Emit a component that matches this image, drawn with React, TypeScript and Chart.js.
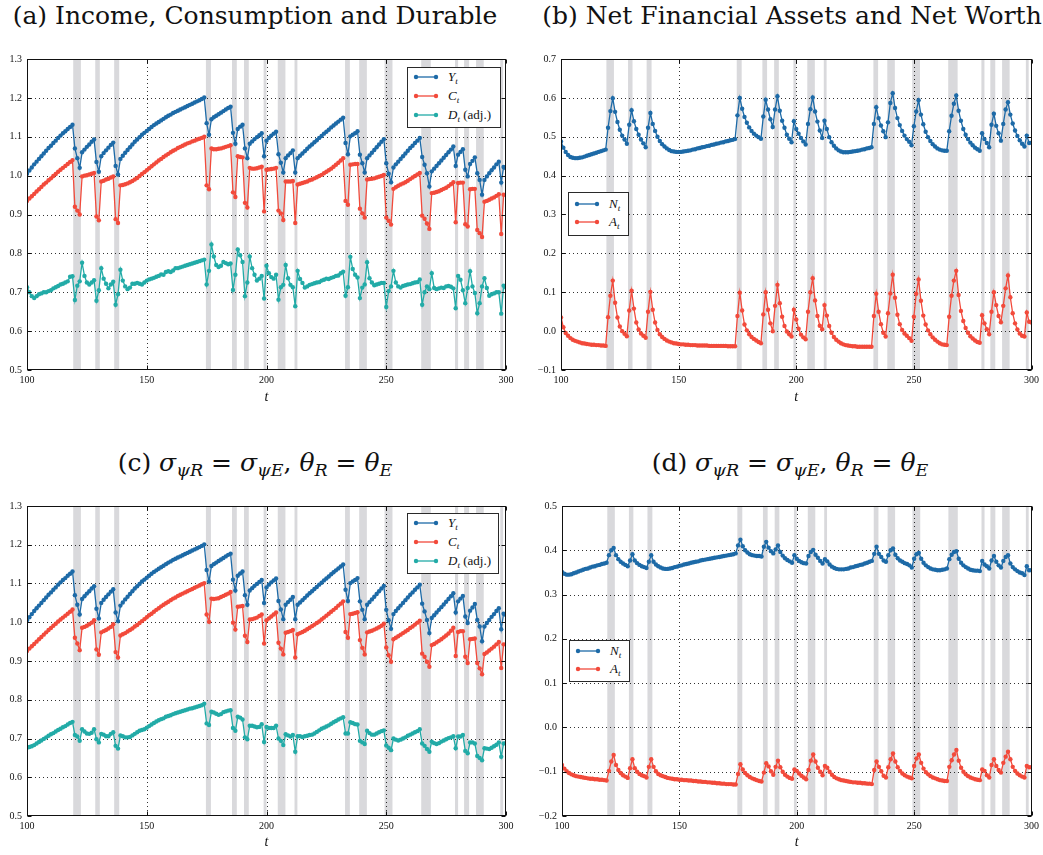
import React, { useEffect, useRef } from 'react';
import { Chart, registerables } from 'chart.js';
Chart.register(...registerables);

const T_START = 100;
const xTicks = [100, 150, 200, 250, 300];
const yTicksAC = [0.5, 0.6, 0.7, 0.8, 0.9, 1.0, 1.1, 1.2, 1.3];
const yTicksB = [-0.1, 0.0, 0.1, 0.2, 0.3, 0.4, 0.5, 0.6, 0.7];
const yTicksD = [-0.2, -0.1, 0.0, 0.1, 0.2, 0.3, 0.4, 0.5];

// recession shading (t from / to)
const bandStart = [119.3, 128.5, 136.4, 174.7, 185.6, 190.6, 198.8, 204.7, 211.7, 232.8, 238.7, 249.3, 264.6, 278.7, 282.5, 287.5, 297.6];
const bandEnd = [122.5, 130.4, 138.5, 176.8, 187.6, 192.6, 200.0, 207.9, 212.9, 234.8, 241.9, 252.6, 268.6, 280.0, 284.6, 290.7, 298.8];

// income Y_t (panels a and c), t = 100..300
const incomeY = [
  1.005,1.013,1.021,1.029,1.036,1.043,1.050,1.057,1.064,1.071,1.077,1.084,1.090,1.097,1.103,1.109,1.114,1.120,1.125,1.131,
  1.070,1.045,1.020,
  1.060,1.067,1.074,1.080,1.087,1.093,
  1.035,1.010,
  1.050,1.058,1.065,1.072,1.079,1.085,
  1.025,1.003,
  1.043,1.051,1.059,1.066,1.073,1.080,1.087,1.093,1.099,1.105,1.110,1.115,1.120,1.125,1.130,1.134,1.138,1.142,1.146,1.150,1.154,1.157,1.161,1.164,1.167,1.170,1.173,1.176,1.179,1.182,1.185,1.188,1.191,1.194,1.197,1.201,
  1.135,1.105,
  1.145,1.150,1.154,1.158,1.162,1.166,1.170,1.174,1.177,
  1.110,1.082,
  1.120,1.126,1.131,
  1.070,1.045,
  1.082,1.088,1.094,1.099,1.104,1.109,
  1.050,
  1.090,1.097,1.103,1.108,1.113,
  1.055,1.033,1.008,
  1.045,1.052,1.058,1.065,
  1.008,
  1.045,1.051,1.057,1.063,1.069,1.075,1.080,1.086,1.091,1.097,1.102,1.108,1.113,1.118,1.124,1.129,1.134,1.139,1.144,1.149,
  1.084,1.055,
  1.101,1.105,1.109,1.114,
  1.054,1.032,1.008,
  1.045,1.052,1.059,1.066,1.073,1.080,1.087,1.094,
  1.032,1.005,0.983,
  1.021,1.029,1.036,1.043,1.050,1.057,1.064,1.071,1.077,1.084,1.090,1.097,
  1.048,1.028,1.006,0.972,
  1.011,1.018,1.025,1.032,1.039,1.046,1.053,1.060,1.067,1.075,
  1.025,
  1.054,1.061,1.068,
  1.015,0.998,
  1.030,1.038,1.047,
  1.006,0.989,0.951,
  0.989,0.998,1.006,1.014,1.021,1.029,1.036,
  0.982,
  1.022,1.019,
];

// consumption C_t, panel a
const consA = [
  0.935,0.941,0.947,0.953,0.959,0.965,0.971,0.977,0.982,0.988,0.993,0.999,1.004,1.010,1.015,1.020,1.025,1.030,1.035,1.040,
  0.920,0.910,0.900,
  0.998,1.000,1.001,1.003,1.005,1.007,
  0.895,0.885,
  0.985,0.987,0.990,0.992,0.995,0.998,
  0.888,0.878,
  0.975,0.976,0.978,0.980,0.983,0.986,0.990,0.994,0.999,1.004,1.009,1.014,1.019,1.024,1.029,1.034,1.039,1.043,1.048,1.052,1.056,1.060,1.064,1.067,1.071,1.074,1.077,1.080,1.083,1.085,1.088,1.090,1.093,1.095,1.097,1.100,
  0.975,0.965,
  1.070,1.068,1.068,1.069,1.070,1.072,1.074,1.076,1.078,
  0.957,0.945,
  1.050,1.048,1.047,
  0.930,0.918,
  1.020,1.018,1.018,1.019,1.021,1.023,
  0.908,
  1.015,1.016,1.017,1.018,1.020,
  0.910,0.903,0.886,
  0.985,0.985,0.985,0.986,
  0.878,
  0.977,0.979,0.981,0.983,0.985,0.988,0.990,0.993,0.996,0.999,1.002,1.006,1.010,1.014,1.018,1.023,1.028,1.033,1.039,1.045,
  0.935,0.925,
  1.028,1.029,1.030,1.030,
  0.915,0.903,0.892,
  0.990,0.991,0.992,0.993,0.995,0.997,0.999,1.002,
  0.892,0.884,0.874,
  0.966,0.970,0.974,0.977,0.980,0.983,0.987,0.991,0.995,0.999,1.003,1.007,
  0.897,0.889,0.877,0.863,
  0.955,0.956,0.958,0.960,0.963,0.966,0.969,0.973,0.978,0.983,
  0.880,
  0.981,0.982,0.982,
  0.875,0.869,
  0.965,0.966,0.966,
  0.860,0.852,0.842,
  0.933,0.935,0.938,0.941,0.944,0.948,0.952,
  0.850,
  0.951,0.950,
];

// durable D_t (adj.), panel a
const durA = [
  0.713,0.700,0.690,0.685,0.690,0.695,0.697,0.700,0.700,0.703,0.705,0.710,0.713,0.716,0.720,0.722,0.725,0.728,0.740,0.741,
  0.680,0.717,0.728,
  0.776,0.742,0.725,0.720,0.725,0.731,
  0.678,0.705,
  0.762,0.735,0.722,0.710,0.720,0.727,
  0.668,0.695,
  0.758,0.730,0.715,0.708,0.712,0.722,0.722,0.724,0.722,0.720,0.725,0.730,0.733,0.735,0.737,0.740,0.742,0.746,0.745,0.752,0.754,0.752,0.756,0.762,0.762,0.764,0.766,0.768,0.770,0.772,0.774,0.776,0.778,0.780,0.782,0.784,
  0.720,0.755,
  0.823,0.792,0.770,0.765,0.768,0.778,0.775,0.772,0.774,
  0.706,0.745,
  0.810,0.795,0.778,
  0.690,0.725,
  0.792,0.762,0.745,0.730,0.735,0.742,
  0.684,
  0.768,0.749,0.739,0.735,0.745,
  0.681,0.713,0.719,
  0.770,0.736,0.719,0.713,
  0.664,
  0.755,0.734,0.724,0.712,0.715,0.719,0.721,0.723,0.725,0.726,0.730,0.732,0.735,0.734,0.737,0.739,0.742,0.743,0.749,0.753,
  0.691,0.713,
  0.791,0.760,0.745,0.738,
  0.685,0.712,0.720,
  0.777,0.736,0.725,0.718,0.720,0.722,0.724,0.724,
  0.662,0.703,0.715,
  0.755,0.725,0.715,0.712,0.716,0.718,0.720,0.721,0.723,0.725,0.726,0.733,
  0.668,0.700,0.715,0.708,
  0.749,0.711,0.708,0.710,0.712,0.711,0.715,0.716,0.714,0.710,
  0.659,
  0.742,0.732,0.705,
  0.672,0.711,
  0.754,0.715,0.698,
  0.646,0.672,0.715,
  0.736,0.711,0.691,0.695,0.697,0.700,0.700,
  0.645,
  0.717,0.712,
];

// net worth N_t, panel b
const worthB = [
  0.488,0.472,0.461,0.453,0.448,0.446,0.445,0.445,0.446,0.447,0.449,0.451,0.453,0.455,0.457,0.459,0.461,0.463,0.465,0.467,
  0.523,0.566,0.599,
  0.564,0.538,0.518,0.503,0.493,0.482,
  0.531,0.568,
  0.540,0.520,0.505,0.493,0.483,0.473,
  0.523,0.561,
  0.533,0.515,0.500,0.489,0.481,0.475,0.470,0.466,0.463,0.462,0.461,0.461,0.461,0.462,0.463,0.464,0.465,0.467,0.468,0.470,0.471,0.473,0.474,0.476,0.477,0.479,0.480,0.482,0.483,0.485,0.486,0.488,0.489,0.491,0.492,0.494,
  0.555,0.600,
  0.572,0.551,0.536,0.524,0.515,0.508,0.503,0.499,0.495,
  0.552,0.595,
  0.570,0.545,0.525,
  0.570,0.604,
  0.567,0.541,0.523,0.505,0.495,0.486,
  0.540,
  0.520,0.508,0.497,0.488,0.480,
  0.533,0.571,0.601,
  0.565,0.539,0.516,0.497,
  0.541,
  0.520,0.499,0.486,0.477,0.470,0.465,0.462,0.460,0.460,0.460,0.461,0.462,0.463,0.464,0.465,0.467,0.468,0.470,0.471,0.473,
  0.533,0.576,
  0.548,0.529,0.514,0.499,
  0.537,0.587,0.612,
  0.574,0.548,0.530,0.515,0.503,0.494,0.487,0.478,
  0.527,0.565,0.594,
  0.557,0.532,0.513,0.499,0.489,0.481,0.475,0.470,0.467,0.465,0.464,0.464,
  0.514,0.554,0.585,0.606,
  0.567,0.541,0.520,0.505,0.494,0.485,0.478,0.472,0.468,0.464,
  0.509,
  0.494,0.484,0.473,
  0.531,0.559,
  0.528,0.509,0.490,
  0.533,0.570,0.589,
  0.557,0.534,0.516,0.502,0.491,0.482,0.475,
  0.503,
  0.484,0.485,
];

// net financial assets A_t, panel b
const assetsB = [
  0.035,0.010,-0.005,-0.012,-0.018,-0.022,-0.025,-0.027,-0.029,-0.031,-0.032,-0.033,-0.034,-0.035,-0.035,-0.036,-0.036,-0.037,-0.037,-0.038,
  0.036,0.091,0.130,
  0.073,0.035,0.012,0.000,-0.007,-0.013,
  0.053,0.104,
  0.058,0.022,0.004,-0.006,-0.012,-0.017,
  0.050,0.101,
  0.055,0.022,0.003,-0.008,-0.015,-0.020,-0.024,-0.027,-0.029,-0.031,-0.032,-0.033,-0.034,-0.034,-0.035,-0.035,-0.036,-0.036,-0.036,-0.037,-0.037,-0.037,-0.037,-0.037,-0.038,-0.038,-0.038,-0.038,-0.038,-0.038,-0.038,-0.038,-0.039,-0.039,-0.039,-0.039,
  0.039,0.099,
  0.053,0.017,0.002,-0.008,-0.015,-0.020,-0.024,-0.028,-0.031,
  0.043,0.100,
  0.055,0.020,0.000,
  0.065,0.119,
  0.072,0.037,0.013,-0.001,-0.008,-0.014,
  0.055,
  0.030,0.006,-0.009,-0.016,-0.021,
  0.050,0.100,0.136,
  0.079,0.039,0.014,0.005,
  0.067,
  0.040,0.013,-0.004,-0.015,-0.022,-0.027,-0.031,-0.034,-0.036,-0.037,-0.038,-0.039,-0.039,-0.040,-0.040,-0.040,-0.040,-0.040,-0.040,-0.040,
  0.039,0.096,
  0.050,0.018,-0.004,-0.014,
  0.046,0.097,0.145,
  0.086,0.042,0.018,0.003,-0.006,-0.012,-0.018,-0.025,
  0.037,0.096,0.133,
  0.078,0.040,0.017,0.002,-0.008,-0.016,-0.022,-0.027,-0.031,-0.034,-0.035,-0.036,
  0.037,0.091,0.130,0.155,
  0.093,0.052,0.026,0.008,-0.004,-0.013,-0.019,-0.024,-0.028,-0.030,
  0.041,
  0.020,0.005,-0.008,
  0.050,0.100,
  0.067,0.039,0.023,
  0.065,0.110,0.143,
  0.087,0.046,0.020,0.004,-0.006,-0.012,-0.014,
  0.048,
  0.024,0.022,
];

// consumption C_t, panel c
const consC = [
  0.926,0.932,0.938,0.944,0.950,0.956,0.962,0.968,0.974,0.980,0.985,0.991,0.996,1.002,1.007,1.012,1.017,1.022,1.027,1.033,
  0.960,0.945,0.928,
  0.986,0.988,0.991,0.995,0.999,1.005,
  0.930,0.916,
  0.974,0.977,0.980,0.984,0.988,0.995,
  0.923,0.909,
  0.966,0.969,0.972,0.976,0.980,0.984,0.989,0.993,0.998,1.003,1.008,1.013,1.018,1.022,1.027,1.032,1.036,1.041,1.045,1.049,1.053,1.057,1.061,1.064,1.068,1.071,1.074,1.077,1.080,1.083,1.086,1.089,1.092,1.095,1.098,1.101,
  1.020,1.001,
  1.061,1.060,1.061,1.062,1.065,1.068,1.071,1.074,1.078,
  0.999,0.981,
  1.040,1.041,1.042,
  0.965,0.949,
  1.007,1.008,1.010,1.012,1.016,1.020,
  0.945,
  1.005,1.010,1.015,1.020,1.025,
  0.947,0.932,0.917,
  0.973,0.975,0.977,0.980,
  0.909,
  0.969,0.972,0.975,0.978,0.982,0.986,0.990,0.994,0.998,1.002,1.007,1.012,1.017,1.022,1.027,1.032,1.037,1.043,1.048,1.054,
  0.975,0.960,
  1.021,1.022,1.024,1.026,
  0.954,0.934,0.917,
  0.974,0.976,0.978,0.981,0.984,0.987,0.991,0.996,
  0.935,0.915,0.898,
  0.956,0.960,0.964,0.968,0.972,0.976,0.980,0.985,0.989,0.994,0.999,1.004,
  0.919,0.911,0.898,0.885,
  0.941,0.944,0.948,0.952,0.956,0.961,0.966,0.971,0.978,0.986,
  0.913,
  0.975,0.977,0.977,
  0.911,0.895,
  0.956,0.957,0.958,
  0.895,0.881,0.866,
  0.918,0.922,0.927,0.932,0.937,0.943,0.949,
  0.882,
  0.943,0.943,
];

// durable D_t (adj.), panel c
const durC = [
  0.676,0.678,0.680,0.683,0.687,0.691,0.695,0.699,0.703,0.707,0.711,0.714,0.718,0.722,0.725,0.729,0.732,0.736,0.740,0.743,
  0.709,0.705,0.694,
  0.724,0.718,0.713,0.712,0.715,0.724,
  0.698,0.690,
  0.712,0.710,0.706,0.706,0.712,0.716,
  0.681,0.674,
  0.708,0.706,0.703,0.703,0.704,0.708,0.712,0.716,0.720,0.722,0.724,0.728,0.732,0.736,0.740,0.744,0.747,0.750,0.752,0.756,0.758,0.760,0.763,0.765,0.767,0.769,0.771,0.773,0.775,0.777,0.778,0.780,0.782,0.784,0.786,0.790,
  0.739,0.735,
  0.769,0.767,0.764,0.761,0.763,0.768,0.770,0.772,0.773,
  0.727,0.720,
  0.756,0.754,0.749,
  0.703,0.698,
  0.733,0.733,0.731,0.729,0.730,0.737,
  0.691,
  0.730,0.727,0.727,0.727,0.733,
  0.700,0.694,0.683,
  0.711,0.708,0.705,0.709,
  0.666,
  0.706,0.706,0.704,0.706,0.707,0.709,0.710,0.713,0.717,0.721,0.725,0.728,0.731,0.734,0.738,0.742,0.745,0.749,0.752,0.755,
  0.713,0.713,
  0.742,0.740,0.737,0.736,
  0.694,0.690,0.686,
  0.720,0.714,0.710,0.710,0.713,0.716,0.719,0.721,
  0.682,0.676,0.670,
  0.700,0.697,0.695,0.697,0.700,0.703,0.707,0.710,0.713,0.716,0.719,0.724,
  0.687,0.681,0.673,0.666,
  0.692,0.688,0.686,0.688,0.692,0.695,0.698,0.701,0.703,0.706,
  0.675,
  0.705,0.705,0.709,
  0.668,0.662,
  0.690,0.690,0.687,
  0.655,0.650,0.644,
  0.675,0.674,0.673,0.676,0.680,0.684,0.690,
  0.653,
  0.687,0.688,
];

// net worth N_t, panel d
const worthD = [
  0.351,0.347,0.345,0.345,0.346,0.348,0.350,0.352,0.354,0.356,0.358,0.359,0.361,0.363,0.364,0.366,0.367,0.369,0.370,0.372,
  0.389,0.400,0.405,
  0.389,0.380,0.374,0.370,0.367,0.364,
  0.377,0.391,
  0.377,0.371,0.367,0.364,0.362,0.360,
  0.374,0.389,
  0.374,0.368,0.364,0.361,0.359,0.358,0.358,0.359,0.360,0.362,0.363,0.365,0.366,0.368,0.369,0.370,0.372,0.373,0.374,0.375,0.377,0.378,0.379,0.380,0.381,0.382,0.383,0.384,0.385,0.386,0.387,0.388,0.389,0.390,0.391,0.393,
  0.411,0.424,
  0.409,0.400,0.395,0.391,0.389,0.388,0.387,0.387,0.386,
  0.408,0.419,
  0.406,0.398,0.393,
  0.402,0.411,
  0.396,0.388,0.382,0.378,0.375,0.372,
  0.389,
  0.381,0.376,0.373,0.371,0.370,
  0.387,0.396,0.401,
  0.390,0.383,0.376,0.370,
  0.380,
  0.375,0.368,0.363,0.360,0.358,0.357,0.357,0.357,0.358,0.359,0.361,0.362,0.364,0.365,0.367,0.368,0.370,0.372,0.374,0.376,
  0.392,0.408,
  0.392,0.385,0.377,0.374,
  0.389,0.400,0.404,
  0.390,0.382,0.377,0.374,0.371,0.369,0.366,0.361,
  0.381,0.391,0.394,
  0.381,0.372,0.366,0.362,0.359,0.357,0.356,0.355,0.355,0.356,0.357,0.359,
  0.380,0.390,0.396,0.398,
  0.381,0.372,0.366,0.362,0.359,0.356,0.355,0.354,0.354,0.353,
  0.376,
  0.368,0.364,0.359,
  0.377,0.387,
  0.374,0.366,0.361,
  0.376,0.385,0.389,
  0.370,0.362,0.357,0.353,0.350,0.348,0.344,
  0.364,
  0.355,0.355,
];

// net financial assets A_t, panel d
const assetsD = [
  -0.085,-0.093,-0.099,-0.103,-0.106,-0.108,-0.110,-0.111,-0.112,-0.113,-0.114,-0.115,-0.116,-0.116,-0.117,-0.117,-0.118,-0.118,-0.119,-0.120,
  -0.098,-0.077,-0.062,
  -0.085,-0.096,-0.103,-0.108,-0.111,-0.114,
  -0.092,-0.072,
  -0.092,-0.100,-0.105,-0.108,-0.110,-0.113,
  -0.089,-0.072,
  -0.089,-0.099,-0.105,-0.108,-0.110,-0.112,-0.114,-0.115,-0.116,-0.117,-0.117,-0.118,-0.118,-0.119,-0.119,-0.120,-0.120,-0.121,-0.121,-0.122,-0.122,-0.123,-0.123,-0.124,-0.124,-0.125,-0.125,-0.126,-0.126,-0.127,-0.127,-0.128,-0.128,-0.128,-0.129,-0.129,
  -0.105,-0.083,
  -0.095,-0.103,-0.108,-0.112,-0.115,-0.117,-0.119,-0.121,-0.122,
  -0.102,-0.081,
  -0.088,-0.099,-0.107,
  -0.089,-0.075,
  -0.090,-0.100,-0.107,-0.111,-0.114,-0.116,
  -0.095,
  -0.098,-0.104,-0.109,-0.113,-0.117,
  -0.096,-0.075,-0.061,
  -0.077,-0.091,-0.100,-0.108,
  -0.087,
  -0.091,-0.100,-0.107,-0.112,-0.115,-0.117,-0.119,-0.120,-0.121,-0.122,-0.123,-0.124,-0.124,-0.125,-0.125,-0.126,-0.126,-0.127,-0.127,-0.128,
  -0.096,-0.077,
  -0.089,-0.099,-0.109,-0.113,
  -0.090,-0.072,-0.059,
  -0.077,-0.090,-0.098,-0.104,-0.108,-0.111,-0.113,-0.115,
  -0.087,-0.070,-0.061,
  -0.080,-0.093,-0.101,-0.106,-0.110,-0.113,-0.115,-0.117,-0.119,-0.120,-0.121,-0.121,
  -0.089,-0.074,-0.061,-0.051,
  -0.075,-0.091,-0.100,-0.106,-0.110,-0.113,-0.115,-0.117,-0.118,-0.119,
  -0.095,
  -0.098,-0.108,-0.113,
  -0.085,-0.072,
  -0.087,-0.096,-0.102,
  -0.080,-0.066,-0.055,
  -0.072,-0.089,-0.098,-0.104,-0.108,-0.111,-0.113,
  -0.087,
  -0.090,-0.090,
];

const BLUE = '#1d6aa7';
const RED = '#f24a3b';
const TEAL = '#22aba7';
const BAND = '#d9d9dc';
const SERIF = "'Liberation Serif', 'Times New Roman', serif";
const TITLE_FONT = "'DejaVu Serif', serif";

const fmtY = (v: number) => {
  const r = Math.round(v * 10) / 10;
  if (Math.abs(r) < 1e-9) return '0.0';
  return r < 0 ? '\u2212' + Math.abs(r).toFixed(1) : r.toFixed(1);
};

const axesPlugin = {
  id: 'mplAxes',
  beforeDraw(chart: any) {
    const { ctx, chartArea: a, scales } = chart;
    const x = scales.x;
    ctx.save();
    ctx.fillStyle = BAND;
    for (let i = 0; i < bandStart.length; i++) {
      const x0 = x.getPixelForValue(bandStart[i]);
      const x1 = x.getPixelForValue(bandEnd[i]);
      ctx.fillRect(x0, a.top, x1 - x0, a.bottom - a.top);
    }
    ctx.restore();
  },
  beforeDatasetsDraw(chart: any) {
    const { ctx, chartArea: a, scales } = chart;
    const x = scales.x;
    const y = scales.y;
    ctx.save();
    ctx.strokeStyle = 'rgba(0,0,0,0.8)';
    ctx.lineWidth = 1;
    ctx.setLineDash([1, 3]);
    ctx.beginPath();
    for (const t of x.ticks) {
      const px = Math.round(x.getPixelForValue(t.value)) + 0.5;
      if (px <= a.left + 2 || px >= a.right - 2) continue;
      ctx.moveTo(px, a.top);
      ctx.lineTo(px, a.bottom);
    }
    for (const t of y.ticks) {
      const py = Math.round(y.getPixelForValue(t.value)) + 0.5;
      if (py <= a.top + 2 || py >= a.bottom - 2) continue;
      ctx.moveTo(a.left, py);
      ctx.lineTo(a.right, py);
    }
    ctx.stroke();
    ctx.restore();
  },
  afterDatasetsDraw(chart: any) {
    const { ctx, chartArea: a, scales } = chart;
    const x = scales.x;
    const y = scales.y;
    const L = Math.round(a.left) + 0.5;
    const R = Math.round(a.right) - 0.5;
    const T = Math.round(a.top) + 0.5;
    const B = Math.round(a.bottom) - 0.5;
    ctx.save();
    ctx.strokeStyle = '#111';
    ctx.lineWidth = 1;
    ctx.strokeRect(L, T, R - L, B - T);
    ctx.beginPath();
    for (const t of x.ticks) {
      const px = Math.round(x.getPixelForValue(t.value)) + 0.5;
      ctx.moveTo(px, B); ctx.lineTo(px, B - 4);
      ctx.moveTo(px, T); ctx.lineTo(px, T + 4);
    }
    for (const t of y.ticks) {
      const py = Math.round(y.getPixelForValue(t.value)) + 0.5;
      ctx.moveTo(L, py); ctx.lineTo(L + 4, py);
      ctx.moveTo(R, py); ctx.lineTo(R - 4, py);
    }
    ctx.stroke();
    ctx.restore();
  },
};

type Series = { label: string; values: number[]; color: string };

type PanelProps = {
  left: number; top: number; width: number; height: number;
  padTop: number; padRight: number; yWidth: number; xHeight: number;
  yMin: number; yMax: number; yTicks: number[]; series: Series[];
};

function Panel(p: PanelProps) {
  const ref = useRef<HTMLCanvasElement>(null);
  useEffect(() => {
    const chart = new Chart(ref.current as HTMLCanvasElement, {
      type: 'line',
      data: {
        datasets: p.series.map((s, i) => ({
          label: s.label,
          data: s.values.map((v, k) => ({ x: T_START + k, y: v })),
          borderColor: s.color,
          backgroundColor: s.color,
          pointBackgroundColor: s.color,
          pointBorderColor: s.color,
          pointBorderWidth: 0,
          pointRadius: 2.2,
          borderWidth: 1.3,
          tension: 0,
          fill: false,
          order: p.series.length - i,
        })),
      },
      options: {
        animation: false,
        responsive: false,
        devicePixelRatio: 1,
        events: [],
        layout: { padding: { left: 0, top: p.padTop, right: p.padRight, bottom: 0 } },
        plugins: { legend: { display: false }, tooltip: { enabled: false }, title: { display: false } },
        scales: {
          x: {
            type: 'linear',
            min: 100,
            max: 300,
            afterBuildTicks: (s: any) => { s.ticks = xTicks.map((v) => ({ value: v })); },
            afterFit: (s: any) => { s.height = p.xHeight; },
            grid: { display: false, drawTicks: false },
            border: { display: false },
            ticks: {
              font: { family: SERIF, size: 10 },
              color: '#111',
              padding: 4,
              maxRotation: 0,
              autoSkip: false,
              callback: (v: any) => String(v),
            },
            title: {
              display: true,
              text: 't',
              color: '#111',
              font: { family: SERIF, size: 14, style: 'italic' },
              padding: { top: 0, bottom: 4 },
            },
          },
          y: {
            type: 'linear',
            min: p.yMin,
            max: p.yMax,
            afterBuildTicks: (s: any) => { s.ticks = p.yTicks.map((v) => ({ value: v })); },
            afterFit: (s: any) => { s.width = p.yWidth; },
            grid: { display: false, drawTicks: false },
            border: { display: false },
            ticks: {
              font: { family: SERIF, size: 10 },
              color: '#111',
              padding: 5,
              autoSkip: false,
              callback: (v: any) => fmtY(Number(v)),
            },
          },
        },
      } as any,
      plugins: [axesPlugin],
    } as any);
    return () => chart.destroy();
  }, []);
  return (
    <canvas
      ref={ref}
      width={p.width}
      height={p.height}
      style={{ position: 'absolute', left: p.left, top: p.top, width: p.width, height: p.height }}
    />
  );
}

const subStyle: React.CSSProperties = { fontSize: '0.7em', verticalAlign: '-0.3em', lineHeight: 0 };

function Sym({ base, sub }: { base: string; sub: string }) {
  return (
    <span>
      <i>{base}</i>
      <sub style={subStyle}><i>{sub}</i></sub>
    </span>
  );
}

type LegendRow = { color: string; label: React.ReactNode };

function LegendBox({ left, top, width, height, rows, rowTop, rowGap }: {
  left: number; top: number; width: number; height: number; rows: LegendRow[]; rowTop: number; rowGap: number;
}) {
  return (
    <div style={{ position: 'absolute', left, top, width, height, boxSizing: 'border-box', border: '1px solid #2a2a2a', background: '#fff' }}>
      {rows.map((r, i) => {
        const cy = rowTop + i * rowGap;
        return (
          <React.Fragment key={i}>
            <svg width={28} height={8} style={{ position: 'absolute', left: 4, top: cy - 4 - 1 }}>
              <line x1={4} y1={4} x2={24} y2={4} stroke={r.color} strokeWidth={1.3} />
              <circle cx={4} cy={4} r={2.2} fill={r.color} />
              <circle cx={24} cy={4} r={2.2} fill={r.color} />
            </svg>
            <div style={{ position: 'absolute', left: 40, top: cy - 9 - 1, height: 18, lineHeight: '18px', fontFamily: SERIF, fontSize: 13, color: '#111', whiteSpace: 'nowrap' }}>
              {r.label}
            </div>
          </React.Fragment>
        );
      })}
    </div>
  );
}

function Title({ centerX, top, children }: { centerX: number; top: number; children: React.ReactNode }) {
  return (
    <div style={{ position: 'absolute', left: centerX - 300, top, width: 600, textAlign: 'center', fontFamily: TITLE_FONT, fontSize: 25, lineHeight: '30px', color: '#111', whiteSpace: 'nowrap' }}>
      {children}
    </div>
  );
}

export default function App() {
  const seriesA: Series[] = [
    { label: 'Y_t', values: incomeY, color: BLUE },
    { label: 'C_t', values: consA, color: RED },
    { label: 'D_t (adj.)', values: durA, color: TEAL },
  ];
  const seriesB: Series[] = [
    { label: 'N_t', values: worthB, color: BLUE },
    { label: 'A_t', values: assetsB, color: RED },
  ];
  const seriesC: Series[] = [
    { label: 'Y_t', values: incomeY, color: BLUE },
    { label: 'C_t', values: consC, color: RED },
    { label: 'D_t (adj.)', values: durC, color: TEAL },
  ];
  const seriesD: Series[] = [
    { label: 'N_t', values: worthD, color: BLUE },
    { label: 'A_t', values: assetsD, color: RED },
  ];
  const legendYCD: LegendRow[] = [
    { color: BLUE, label: <Sym base="Y" sub="t" /> },
    { color: RED, label: <Sym base="C" sub="t" /> },
    { color: TEAL, label: <span><Sym base="D" sub="t" /> (adj.)</span> },
  ];
  const legendNA: LegendRow[] = [
    { color: BLUE, label: <Sym base="N" sub="t" /> },
    { color: RED, label: <Sym base="A" sub="t" /> },
  ];
  const mathTitle = (tag: string) => (
    <span>
      ({tag}) <Sym base={'\u03c3'} sub={'\u03c8R'} /> = <Sym base={'\u03c3'} sub={'\u03c8E'} />, <Sym base={'\u03b8'} sub="R" /> = <Sym base={'\u03b8'} sub="E" />
    </span>
  );
  return (
    <div style={{ position: 'absolute', left: 0, top: 0, width: 1043, height: 855, background: '#fff', overflow: 'hidden' }}>
      <Title centerX={255} top={1}>(a) Income, Consumption and Durable</Title>
      <Title centerX={792} top={1}>(b) Net Financial Assets and Net Worth</Title>
      <Title centerX={255} top={448}>{mathTitle('c')}</Title>
      <Title centerX={790} top={448}>{mathTitle('d')}</Title>

      <Panel left={0} top={45} width={520} height={365} padTop={14} padRight={14} yWidth={27} xHeight={40}
        yMin={0.5} yMax={1.3} yTicks={yTicksAC} series={seriesA} />
      <Panel left={520} top={45} width={523} height={365} padTop={14} padRight={8} yWidth={41} xHeight={40}
        yMin={-0.1} yMax={0.7} yTicks={yTicksB} series={seriesB} />
      <Panel left={0} top={491} width={520} height={364} padTop={15} padRight={14} yWidth={27} xHeight={39}
        yMin={0.5} yMax={1.3} yTicks={yTicksAC} series={seriesC} />
      <Panel left={520} top={491} width={523} height={364} padTop={15} padRight={8} yWidth={42} xHeight={39}
        yMin={-0.2} yMax={0.5} yTicks={yTicksD} series={seriesD} />

      <LegendBox left={407} top={67} width={94} height={61} rows={legendYCD} rowTop={10} rowGap={19} />
      <LegendBox left={568} top={192} width={61} height={44} rows={legendNA} rowTop={12} rowGap={18} />
      <LegendBox left={407} top={513} width={92} height={61} rows={legendYCD} rowTop={10} rowGap={19} />
      <LegendBox left={569} top={640} width={61} height={42} rows={legendNA} rowTop={11} rowGap={18} />
    </div>
  );
}
